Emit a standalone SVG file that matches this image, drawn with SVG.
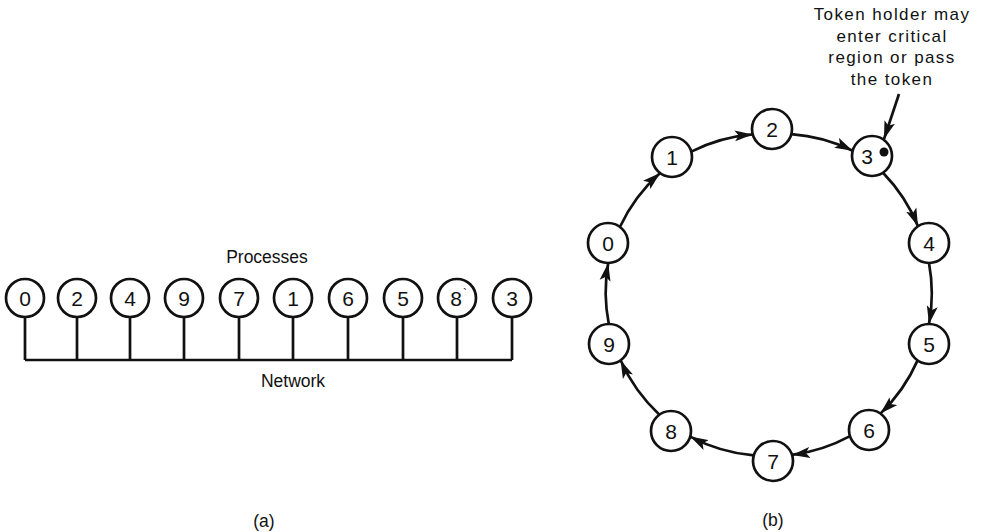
<svg xmlns="http://www.w3.org/2000/svg" width="984" height="532" viewBox="0 0 984 532">
<style>
  .n circle { fill: #fff; stroke: #111; stroke-width: 2.7; }
  .d { font-family: "Liberation Sans", Arial, sans-serif; font-size: 21px; fill: #111; text-anchor: middle; }
  .lbl { font-family: "Liberation Sans", Arial, sans-serif; font-size: 17.5px; fill: #111; text-anchor: middle; }
  .ann { font-family: "Liberation Sans", Arial, sans-serif; font-size: 17px; fill: #111; text-anchor: middle; letter-spacing: 1.4px; }
  .wire { fill: none; stroke: #111; stroke-width: 2.7; }
  .arc { fill: none; stroke: #111; stroke-width: 2.7; marker-end: url(#ah); }
</style>
<defs>
  <marker id="ah" markerUnits="userSpaceOnUse" markerWidth="20" markerHeight="12" refX="18" refY="6" orient="auto">
    <path d="M0,0.5 L18,6 L0,11.5 L4,6 Z" fill="#111"/>
  </marker>
</defs>
<rect width="984" height="532" fill="#fff"/>

<!-- (a) bus -->
<g id="bus-connectors">
  <path class="wire" d="M25,360 H512"/>
  <path class="wire" d="M25,317 V360 M77,317 V360 M130,317 V360 M184,317 V360 M239,317 V360 M293,317 V360 M348,317 V360 M403,317 V360 M457,317 V360 M512,317 V360"/>
</g>
<text class="lbl" x="267" y="263">Processes</text>
<text class="lbl" x="293" y="387">Network</text>
<g id="a0" class="n"><circle cx="25" cy="298" r="19"/><text class="d" x="25" y="305.5">0</text></g>
<g id="a2" class="n"><circle cx="77" cy="298" r="19"/><text class="d" x="77" y="305.5">2</text></g>
<g id="a4" class="n"><circle cx="130" cy="298" r="19"/><text class="d" x="130" y="305.5">4</text></g>
<g id="a9" class="n"><circle cx="184" cy="298" r="19"/><text class="d" x="184" y="305.5">9</text></g>
<g id="a7" class="n"><circle cx="239" cy="298" r="19"/><text class="d" x="239" y="305.5">7</text></g>
<g id="a1" class="n"><circle cx="293" cy="298" r="19"/><text class="d" x="293" y="305.5">1</text></g>
<g id="a6" class="n"><circle cx="348" cy="298" r="19"/><text class="d" x="348" y="305.5">6</text></g>
<g id="a5" class="n"><circle cx="403" cy="298" r="19"/><text class="d" x="403" y="305.5">5</text></g>
<g id="a8" class="n"><circle cx="457" cy="298" r="19"/><text class="d" x="456" y="305.5">8<tspan x="465" y="298" font-size="12">`</tspan></text></g>
<g id="a3" class="n"><circle cx="512" cy="298" r="19"/><text class="d" x="512" y="305.5">3</text></g>
<text class="lbl" x="264" y="527">(a)</text>

<!-- (b) ring -->
<g id="ring-connectors">
  <path class="arc" d="M619.9,227 A167,167 0 0 1 660.1,173"/>
  <path class="arc" d="M691.3,151.6 A167,167 0 0 1 752.7,134.4"/>
  <path class="arc" d="M791.3,134.2 A167,167 0 0 1 852.7,150.8"/>
  <path class="arc" d="M883,172.7 A167,167 0 0 1 918,226.3"/>
  <path class="arc" d="M929,263 A167,167 0 0 1 929,324"/>
  <path class="arc" d="M917.6,360.4 A167,167 0 0 1 880.4,413.6"/>
  <path class="arc" d="M850,436.1 A167,167 0 0 1 792,454.9"/>
  <path class="arc" d="M753.8,455.4 A167,167 0 0 1 690.2,436.6"/>
  <path class="arc" d="M659.4,414.7 A167,167 0 0 1 620.6,360.3"/>
  <path class="arc" d="M608.8,324 A167,167 0 0 1 608.2,263"/>
  <path class="arc" d="M899,94 L884,139"/>
</g>
<g id="b0" class="n"><circle cx="608" cy="243" r="20"/><text class="d" x="608" y="250.5">0</text></g>
<g id="b1" class="n"><circle cx="672" cy="157" r="20"/><text class="d" x="672" y="164.5">1</text></g>
<g id="b2" class="n"><circle cx="772" cy="129" r="20"/><text class="d" x="772" y="136.5">2</text></g>
<g id="b3" class="n"><circle cx="872" cy="156" r="20"/><text class="d" x="867" y="163.5">3</text><circle cx="884" cy="152" r="4.5" style="fill:#111;stroke:none"/></g>
<g id="b4" class="n"><circle cx="929" cy="243" r="20"/><text class="d" x="929" y="250.5">4</text></g>
<g id="b5" class="n"><circle cx="929" cy="344" r="20"/><text class="d" x="929" y="351.5">5</text></g>
<g id="b6" class="n"><circle cx="869" cy="430" r="20"/><text class="d" x="869" y="437.5">6</text></g>
<g id="b7" class="n"><circle cx="773" cy="461" r="20"/><text class="d" x="773" y="468.5">7</text></g>
<g id="b8" class="n"><circle cx="671" cy="431" r="20"/><text class="d" x="671" y="438.5">8</text></g>
<g id="b9" class="n"><circle cx="609" cy="344" r="20"/><text class="d" x="609" y="351.5">9</text></g>
<g id="annotation">
  <text class="ann" x="892" y="20">Token holder may</text>
  <text class="ann" x="892" y="42">enter critical</text>
  <text class="ann" x="892" y="63">region or pass</text>
  <text class="ann" x="892" y="85">the token</text>
</g>
<text class="lbl" x="773" y="526">(b)</text>
</svg>
